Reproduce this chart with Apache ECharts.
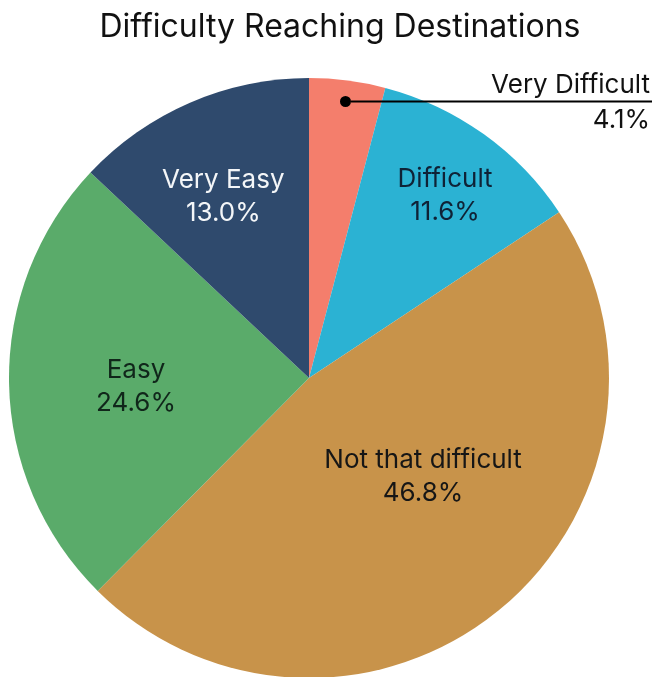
<!DOCTYPE html>
<html>
<head>
<meta charset="utf-8">
<script src="https://cdn.jsdelivr.net/npm/echarts@6/dist/echarts.min.js"></script>
<style>
    html, body { margin: 0; padding: 0; background: #fff; }
    #chart { width: 656px; height: 677px; }
</style>
</head>
<body>
<div id="chart"></div>
<script>
// slices, clockwise from 12 o'clock
const categories = ["Very Difficult", "Difficult", "Not that difficult", "Easy", "Very Easy"];
const shares = [4.1, 11.6, 46.8, 24.6, 13.0];
const colors = ["#f47e6c", "#2bb2d3", "#c8934a", "#5aab6a", "#2f4a6d"];
const labelColors = ["#111111", "#0f2236", "#161616", "#10261a", "#f4f6f8"];

// nudges of the inside labels away from the default spot
const labelShift = [null, [47, -58], [17, -20], [-20, 6], [-25, -41]];

const FONT = "Inter, 'Liberation Sans', sans-serif";

const chart = echarts.init(document.getElementById("chart"));

const option = {
    animation: false,
    title: {
        text: "Difficulty Reaching Destinations",
        left: 335,
        top: 6,
        textAlign: "center",
        textStyle: {
            fontFamily: FONT,
            fontSize: 32,
            fontWeight: "normal",
            color: "#111",
        },
    },
    series: [
        {
            type: "pie",
            center: [309, 378],
            radius: 300,
            startAngle: 90,
            clockwise: true,
            silent: true,
            itemStyle: { borderWidth: 0 },
            label: {
                position: "inside",
                fontFamily: FONT,
                fontSize: 26,
                lineHeight: 33,
                formatter: (p) => p.name + "\n" + p.value.toFixed(1) + "%",
            },
            labelLine: { show: false },
            labelLayout: (p) => {
                if (p.dataIndex === 0) {
                    return { x: 652, y: 74, align: "right", verticalAlign: "top" };
                }
                const s = labelShift[p.dataIndex];
                return { dx: s[0], dy: s[1] };
            },
            data: categories.map((name, i) => {
                const item = {
                    name: name,
                    value: shares[i],
                    itemStyle: { color: colors[i] },
                    label: { color: labelColors[i] },
                };
                if (i === 0) {
                    item.label = {
                        color: labelColors[i],
                        align: "right",
                        formatter: (p) =>
                            "{n|" + p.name + "}\n{dot|}{bar|}\n{v|" + p.value.toFixed(1) + "%}",
                        rich: {
                            n: { fontFamily: FONT, fontSize: 26, lineHeight: 22, color: "#111", align: "right", padding: [0, 2, 0, 0] },
                            dot: { width: 11, height: 11, lineHeight: 11, borderRadius: 5.5, backgroundColor: "#000", align: "right" },
                            bar: { width: 301, height: 2, lineHeight: 11, backgroundColor: "#000", align: "right" },
                            v: { fontFamily: FONT, fontSize: 26, lineHeight: 27, color: "#111", align: "right", padding: [0, 2, 0, 0] },
                        },
                    };
                }
                return item;
            }),
        },
    ],
};

chart.setOption(option);
</script>
</body>
</html>
